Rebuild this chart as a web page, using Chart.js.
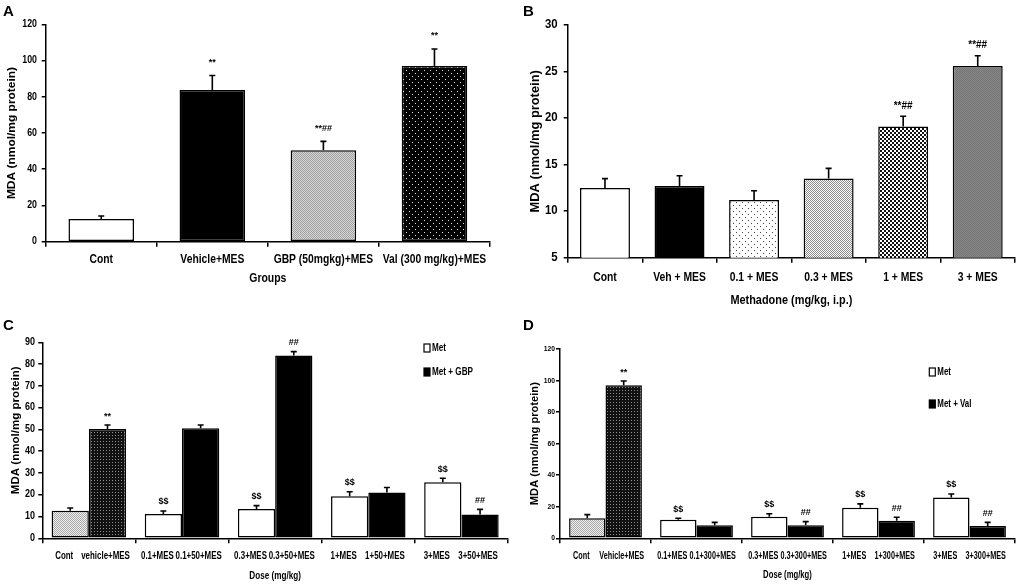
<!DOCTYPE html>
<html><head><meta charset="utf-8">
<script src="https://cdn.jsdelivr.net/npm/chart.js@4.4.1/dist/chart.umd.min.js"></script>
<style>
html,body{margin:0;padding:0;background:#fff;width:1021px;height:587px;overflow:hidden;position:relative}
canvas{position:absolute}
.lt{position:absolute;font:bold 15px 'Liberation Sans',Arial,sans-serif;color:#000;line-height:15px}
</style></head><body>
<canvas id="cA" width="510" height="290" style="left:0;top:0;width:510px;height:290px"></canvas>
<canvas id="cB" width="511" height="312" style="left:510px;top:0;width:511px;height:312px"></canvas>
<canvas id="cC" width="510" height="297" style="left:0;top:290px;width:510px;height:297px"></canvas>
<canvas id="cD" width="511" height="297" style="left:510px;top:290px;width:511px;height:297px"></canvas>
<div class="lt" style="left:3px;top:3px">A</div>
<div class="lt" style="left:523px;top:3px">B</div>
<div class="lt" style="left:3px;top:317px">C</div>
<div class="lt" style="left:523px;top:317px">D</div>
<script>
// ---------- DATA ----------
const aLabels = ['Cont', 'Vehicle+MES', 'GBP (50mgkg)+MES', 'Val (300 mg/kg)+MES'];
const aValues = [12.5, 83.8, 50.5, 97.0];
const aErrors = [1.7, 7.9, 4.9, 9.4];
const aMarks  = ['', '**', '**##', '**'];

const bLabels = ['Cont', 'Veh + MES', '0.1 + MES', '0.3 + MES', '1 + MES', '3 + MES'];
const bValues = [12.5, 12.7, 11.2, 13.5, 19.1, 25.6];
const bErrors = [1.0, 1.1, 1.0, 1.1, 1.1, 1.1];
const bMarks  = ['', '', '', '', '**##', '**##'];

const cGroups     = ['g1', 'g2', 'g3', 'g4', 'g5'];
const cMetLabels  = ['Cont', '0.1+MES', '0.3+MES', '1+MES', '3+MES'];
const cGbpLabels  = ['vehicle+MES', '0.1+50+MES', '0.3+50+MES', '1+50+MES', '3+50+MES'];
const cMet        = [12.7, 11.2, 13.5, 19.3, 25.7];
const cMetErr     = [1.2, 1.35, 1.5, 2.1, 1.9];
const cMetMarks   = ['', '$$', '$$', '$$', '$$'];
const cGbp        = [50.2, 50.5, 83.9, 21.0, 10.9];
const cGbpErr     = [1.8, 1.5, 1.8, 2.3, 2.4];
const cGbpMarks   = ['**', '', '##', '', '##'];
const cLegend     = ['Met', 'Met + GBP'];

const dGroups     = ['g1', 'g2', 'g3', 'g4', 'g5'];
const dMetLabels  = ['Cont', '0.1+MES', '0.3+MES', '1+MES', '3+MES'];
const dValLabels  = ['Vehicle+MES', '0.1+300+MES', '0.3+300+MES', '1+300+MES', '3+300+MES'];
const dMet        = [12.7, 11.8, 13.7, 19.4, 25.8];
const dMetErr     = [2.3, 0.9, 1.9, 2.4, 2.3];
const dMetMarks   = ['', '$$', '$$', '$$', '$$'];
const dVal        = [97.0, 8.2, 8.2, 11.2, 7.8];
const dValErr     = [2.7, 1.9, 2.4, 2.1, 2.3];
const dValMarks   = ['**', '', '##', '##', '##'];
const dLegend     = ['Met', 'Met + Val'];

const yTitle = 'MDA (nmol/mg protein)';
const aXTitle = 'Groups';
const bXTitle = 'Methadone (mg/kg, i.p.)';
const cdXTitle = 'Dose (mg/kg)';

// ---------- STYLE ----------
const WF = "'Liberation Sans',Arial,sans-serif";
Chart.defaults.font.family = WF;
Chart.defaults.color = '#000';

function pat(w, h, bg, fg, pts) {
  const c = document.createElement('canvas'); c.width = w; c.height = h;
  const x = c.getContext('2d'); x.fillStyle = bg; x.fillRect(0, 0, w, h); x.fillStyle = fg;
  pts.forEach(p => x.fillRect(p[0], p[1], p[2] || 1, p[3] || 1));
  return x.createPattern(c, 'repeat');
}
const patGBP   = pat(2, 2, '#d6d6d6', '#a0a0a0', [[0,0],[1,1]]);
const patValA  = pat(6, 6, '#000', '#ddd', [[1,1],[4,4]]);
const patDots  = pat(6, 6, '#fff', '#444', [[1,1],[4,4]]);
const patLight = pat(2, 2, '#fff', '#8a8a8a', [[0,0],[1,1]]);
const patCheck = pat(4, 4, '#fff', '#111', [[0,0,2,2],[2,2,2,2]]);
const patGray  = pat(2, 2, '#868686', '#767676', [[0,0],[1,1]]);
const patCont  = pat(2, 2, '#eeeeee', '#a8a8a8', [[0,0],[1,1]]);
const patVeh   = pat(3, 3, '#111', '#8c8c8c', [[1,1]]);

function cText(ctx, text, x, y, font, sx, align, rot) {
  ctx.save(); ctx.translate(x, y); if (rot) ctx.rotate(rot); ctx.scale(sx, 1);
  ctx.font = font; ctx.textAlign = align || 'center'; ctx.textBaseline = 'middle'; ctx.fillStyle = '#000';
  ctx.fillText(text, 0, 0); ctx.restore();
}

const errPlugin = {
  id: 'errs',
  afterDatasetsDraw(chart, args, o) {
    const ctx = chart.ctx, ys = chart.scales.y, ca = chart.chartArea;
    chart.data.datasets.forEach((ds, di) => {
      const meta = chart.getDatasetMeta(di);
      meta.data.forEach((el, i) => {
        const v = ds.data[i], e = ds.errors[i];
        const yTop = ys.getPixelForValue(v + e);
        ctx.save();
        ctx.strokeStyle = '#000'; ctx.lineWidth = 1.6;
        ctx.beginPath();
        ctx.moveTo(el.x, el.y); ctx.lineTo(el.x, yTop);
        ctx.moveTo(el.x - o.cap, yTop); ctx.lineTo(el.x + o.cap, yTop);
        ctx.stroke();
        ctx.restore();
        const m = ds.marks && ds.marks[i];
        if (m) cText(ctx, m, el.x, yTop - o.markGap, o.markFont, 1);
        const lab = ds.barLabels ? ds.barLabels[i] : chart.data.labels[i];
        const dx = (o.xt.dx && o.xt.dx[di]) || 0;
        cText(ctx, lab, el.x + dx, ca.bottom + o.xt.gap, o.xt.font, o.xt.sx);
      });
    });
    // y tick labels
    ys.ticks.forEach(t => cText(ctx, String(t.value), ca.left - o.yt.gap, ys.getPixelForValue(t.value), o.yt.font, o.yt.sx, 'right'));
    // axis titles
    cText(ctx, o.xTitle.text, (ca.left + ca.right) / 2, ca.bottom + o.xTitle.gap, o.xTitle.font, o.xTitle.sx);
    cText(ctx, o.yTitle.text, o.yTitle.x, (ca.top + ca.bottom) / 2 + (o.yTitle.dy || 0), o.yTitle.font, o.yTitle.sx, 'center', -Math.PI / 2);
    if (o.legend) {
      const L = o.legend;
      chart.data.datasets.forEach((ds, di) => {
        const y = L.y + di * L.dy;
        ctx.save();
        ctx.fillStyle = di === 0 ? '#fff' : '#000';
        ctx.fillRect(L.x, y - 4, 6, 8);
        ctx.strokeStyle = '#000'; ctx.lineWidth = 1.2; ctx.strokeRect(L.x, y - 4, 6, 8);
        ctx.restore();
        cText(ctx, ds.label, L.x + 8, y, L.font, L.sx, 'left');
      });
    }
  }
};

function axisGrid(len) { return { drawOnChartArea: false, drawTicks: true, tickLength: len, color: '#000', lineWidth: 1.5 }; }
const border = { display: true, color: '#000', width: 1.5 };
const base = { responsive: false, animation: false, events: [] };
function scalesFor(xh, yw, ymin, ymax, step) {
  return {
    x: { afterFit: s => { s.height = xh; }, grid: axisGrid(5), border, ticks: { display: false } },
    y: { min: ymin, max: ymax, afterFit: s => { s.width = yw; }, grid: axisGrid(4), border, ticks: { display: false, stepSize: step } }
  };
}

// ---------- A ----------
new Chart(document.getElementById('cA'), {
  type: 'bar',
  data: { labels: aLabels, datasets: [{ data: aValues, errors: aErrors, marks: aMarks,
    backgroundColor: ['#fff', '#000', patGBP, patValA], borderColor: '#000', borderWidth: 1.5,
    borderSkipped: false, barPercentage: 0.59, categoryPercentage: 1 }] },
  options: Object.assign({}, base, {
    layout: { padding: { left: 0, top: 24.3, right: 20, bottom: 0 } },
    plugins: { legend: { display: false }, tooltip: { enabled: false },
      errs: { cap: 3, markGap: 13, markFont: 'bold 9px ' + WF,
        xt: { font: 'bold 12px ' + WF, sx: 0.86, gap: 17.5 },
        yt: { font: 'bold 10px ' + WF, sx: 0.88, gap: 8.7 },
        xTitle: { text: aXTitle, font: 'bold 12px ' + WF, sx: 0.87, gap: 37.3 },
        yTitle: { text: yTitle, font: 'bold 11.5px ' + WF, sx: 1.04, x: 12.3 } } },
    scales: scalesFor(48.3, 45.7, 0, 120, 20)
  }),
  plugins: [errPlugin]
});

// ---------- B ----------
new Chart(document.getElementById('cB'), {
  type: 'bar',
  data: { labels: bLabels, datasets: [{ data: bValues, errors: bErrors, marks: bMarks,
    backgroundColor: ['#fff', '#000', patDots, patLight, patCheck, patGray], borderColor: '#000', borderWidth: 1.5,
    borderSkipped: false, barPercentage: 0.67, categoryPercentage: 1 }] },
  options: Object.assign({}, base, {
    layout: { padding: { left: 0, top: 25, right: 6, bottom: 0 } },
    plugins: { legend: { display: false }, tooltip: { enabled: false },
      errs: { cap: 3, markGap: 10, markFont: 'bold 10px ' + WF,
        xt: { font: 'bold 12.5px ' + WF, sx: 0.83, gap: 20 },
        yt: { font: 'bold 12px ' + WF, sx: 0.95, gap: 10 },
        xTitle: { text: bXTitle, font: 'bold 13px ' + WF, sx: 0.84, gap: 42.3 },
        yTitle: { text: yTitle, font: 'bold 13px ' + WF, sx: 0.99, x: 25 } } },
    scales: scalesFor(54.3, 57.7, 5, 30, 5)
  }),
  plugins: [errPlugin]
});

// ---------- C ----------
new Chart(document.getElementById('cC'), {
  type: 'bar',
  data: { labels: cGroups, datasets: [
    { label: cLegend[0], data: cMet, errors: cMetErr, marks: cMetMarks, barLabels: cMetLabels,
      backgroundColor: [patCont, '#fff', '#fff', '#fff', '#fff'], borderColor: '#000', borderWidth: 1.5,
      borderSkipped: false, barPercentage: 1, categoryPercentage: 0.8 },
    { label: cLegend[1], data: cGbp, errors: cGbpErr, marks: cGbpMarks, barLabels: cGbpLabels,
      backgroundColor: [patVeh, '#000', '#000', '#000', '#000'], borderColor: '#000', borderWidth: 1.5,
      borderSkipped: false, barPercentage: 1, categoryPercentage: 0.8 } ] },
  options: Object.assign({}, base, {
    layout: { padding: { left: 0, top: 52.3, right: 2, bottom: 0 } },
    plugins: { legend: { display: false }, tooltip: { enabled: false },
      errs: { cap: 3, markGap: 9, markFont: 'bold 9px ' + WF,
        xt: { font: 'bold 11px ' + WF, sx: 0.72, gap: 17.7, dx: [-6, -2] },
        yt: { font: 'bold 10px ' + WF, sx: 0.9, gap: 7.3 },
        xTitle: { text: cdXTitle, font: 'bold 11px ' + WF, sx: 0.74, gap: 37.7 },
        yTitle: { text: yTitle, font: 'bold 10.5px ' + WF, sx: 1.1, x: 16, dy: -10 },
        legend: { x: 424, y: 58, dy: 24, font: 'bold 11px ' + WF, sx: 0.74 } } },
    scales: scalesFor(48.7, 42.3, 0, 90, 10)
  }),
  plugins: [errPlugin]
});

// ---------- D ----------
new Chart(document.getElementById('cD'), {
  type: 'bar',
  data: { labels: dGroups, datasets: [
    { label: dLegend[0], data: dMet, errors: dMetErr, marks: dMetMarks, barLabels: dMetLabels,
      backgroundColor: [patCont, '#fff', '#fff', '#fff', '#fff'], borderColor: '#000', borderWidth: 1.5,
      borderSkipped: false, barPercentage: 1, categoryPercentage: 0.8 },
    { label: dLegend[1], data: dVal, errors: dValErr, marks: dValMarks, barLabels: dValLabels,
      backgroundColor: [patVeh, '#000', '#000', '#000', '#000'], borderColor: '#000', borderWidth: 1.5,
      borderSkipped: false, barPercentage: 1, categoryPercentage: 0.8 } ] },
  options: Object.assign({}, base, {
    layout: { padding: { left: 0, top: 59, right: 6, bottom: 0 } },
    plugins: { legend: { display: false }, tooltip: { enabled: false },
      errs: { cap: 3, markGap: 9, markFont: 'bold 9px ' + WF,
        xt: { font: 'bold 10.5px ' + WF, sx: 0.69, gap: 17.4, dx: [-6, -2] },
        yt: { font: 'bold 7.5px ' + WF, sx: 0.9, gap: 5 },
        xTitle: { text: cdXTitle, font: 'bold 11px ' + WF, sx: 0.7, gap: 36.7 },
        yTitle: { text: yTitle, font: 'bold 10.5px ' + WF, sx: 1.06, x: 25 },
        legend: { x: 419.3, y: 82, dy: 32, font: 'bold 11px ' + WF, sx: 0.72 } } },
    scales: scalesFor(48.7, 50, 0, 120, 20)
  }),
  plugins: [errPlugin]
});
</script>
</body></html>
